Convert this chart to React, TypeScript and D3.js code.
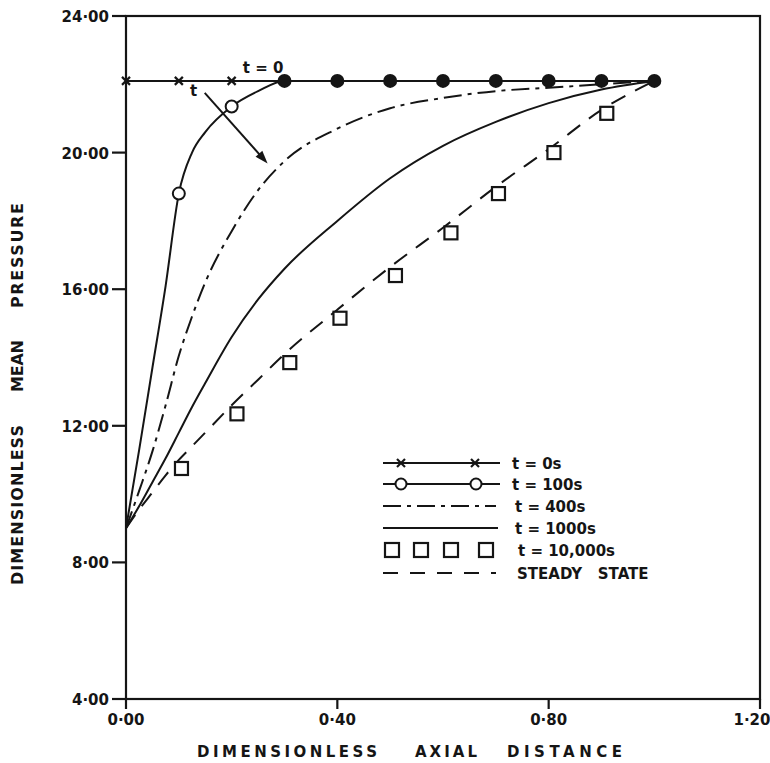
import React from 'react';
import * as d3 from 'd3';

// axial positions shared by the continuous curves
const xs = [0, 0.025, 0.05, 0.075, 0.1, 0.125, 0.15, 0.2, 0.25, 0.3, 0.4, 0.5, 0.6, 0.7, 0.8, 0.9, 1.0];
const t100 = [9.0, 11.3, 13.7, 16.1, 18.8, 20.0, 20.6, 21.35, 21.8, 22.1, 22.1, 22.1, 22.1, 22.1, 22.1, 22.1, 22.1];
const t400 = [9.0, 10.1, 11.25, 12.6, 14.05, 15.2, 16.2, 17.7, 18.9, 19.75, 20.7, 21.3, 21.6, 21.8, 21.9, 22.0, 22.1];
const t1000 = [9.0, 9.65, 10.35, 11.05, 11.8, 12.55, 13.25, 14.6, 15.7, 16.6, 18.0, 19.25, 20.2, 20.9, 21.45, 21.85, 22.1];
const steady = [9.0, 9.55, 10.05, 10.55, 11.0, 11.4, 11.8, 12.6, 13.35, 14.1, 15.4, 16.65, 17.8, 19.0, 20.1, 21.25, 22.1];

// t = 0 line and its markers
const t0X = [0, 0.1, 0.2, 0.3, 0.4, 0.5, 0.6, 0.7, 0.8, 0.9, 1.0];
const t0 = [22.1, 22.1, 22.1, 22.1, 22.1, 22.1, 22.1, 22.1, 22.1, 22.1, 22.1];

// t = 100s circles
const t100MarkX = [0.1, 0.2, 0.3, 0.4, 0.5, 0.6, 0.7, 0.8, 0.9, 1.0];
const t100Marks = [18.8, 21.35, 22.1, 22.1, 22.1, 22.1, 22.1, 22.1, 22.1, 22.1];

// t = 10,000s squares
const t10000X = [0.105, 0.21, 0.31, 0.405, 0.51, 0.615, 0.705, 0.81, 0.91];
const t10000 = [10.75, 12.35, 13.85, 15.15, 16.4, 17.65, 18.8, 20.0, 21.15];

const xTicks = [0, 0.4, 0.8, 1.2];
const yTicks = [4, 8, 12, 16, 20, 24];

const legendLabels = ['t = 0s', 't = 100s', 't = 400s', 't = 1000s', 't = 10,000s', 'STEADY   STATE'];

const W = 770;
const H = 763;
const font = '"DejaVu Sans", sans-serif';
const ink = '#151515';

const fmt = (v: number) => d3.format('.2f')(v).replace('.', '·');

const Cross = ({ cx, cy, s = 4 }: { cx: number; cy: number; s?: number }) => (
  <g stroke={ink} strokeWidth={2.2}>
    <line x1={cx - s} y1={cy - s} x2={cx + s} y2={cy + s} />
    <line x1={cx - s} y1={cy + s} x2={cx + s} y2={cy - s} />
  </g>
);

export default function App() {
  const x = d3.scaleLinear().domain([0, 1.2]).range([126, 760]);
  const y = d3.scaleLinear().domain([4, 24]).range([699, 16]);
  const [x0, x1] = x.range();
  const [y0, y1] = y.range();

  const line = d3
    .line<number>()
    .x((_, i) => x(xs[i]))
    .y((d) => y(d))
    .curve(d3.curveMonotoneX);

  const t0Line = d3
    .line<number>()
    .x((_, i) => x(t0X[i]))
    .y((d) => y(d));

  // arrow annotation in data units
  const ax1 = x(0.149), ay1 = y(21.75);
  const ax2 = x(0.268), ay2 = y(19.68);
  const ang = Math.atan2(ay2 - ay1, ax2 - ax1);
  const hl = 13, hw = 4.5;
  const head = [
    [ax2, ay2],
    [ax2 - hl * Math.cos(ang) + hw * Math.sin(ang), ay2 - hl * Math.sin(ang) - hw * Math.cos(ang)],
    [ax2 - hl * Math.cos(ang) - hw * Math.sin(ang), ay2 - hl * Math.sin(ang) + hw * Math.cos(ang)],
  ]
    .map((p) => p.join(','))
    .join(' ');

  // legend layout
  const lgX1 = 383, lgX2 = 500;
  const rowY = [463, 484, 506, 528, 550, 573];
  const textX = [512, 512, 515, 515, 518, 517];

  return (
    <svg
      width={W}
      height={H}
      style={{ position: 'absolute', left: 0, top: 0, background: '#fff' }}
      fontFamily={font}
      fontWeight="bold"
    >
      <rect width={W} height={H} fill="#fff" />

      {/* frame */}
      <rect x={x0} y={y1} width={x1 - x0} height={y0 - y1} fill="none" stroke={ink} strokeWidth={2.2} />

      {/* y ticks */}
      {yTicks.map((t) => (
        <g key={t}>
          <line x1={x0 - 14} x2={x0} y1={y(t)} y2={y(t)} stroke={ink} strokeWidth={2.2} />
          <text x={x0 - 17} y={y(t) + 6} textAnchor="end" fontSize={15} fill={ink}>
            {fmt(t)}
          </text>
        </g>
      ))}

      {/* x ticks */}
      {xTicks.map((t) => (
        <g key={t}>
          <line x1={x(t)} x2={x(t)} y1={y0} y2={y0 + 10} stroke={ink} strokeWidth={2.2} />
          <text x={Math.min(x(t), W - 18)} y={y0 + 26} textAnchor="middle" fontSize={15} fill={ink}>
            {fmt(t)}
          </text>
        </g>
      ))}

      {/* axis titles */}
      <g fontSize={15} fill={ink}>
        <text x={197} y={757} textLength={180} lengthAdjust="spacing">DIMENSIONLESS</text>
        <text x={415} y={757} textLength={62} lengthAdjust="spacing">AXIAL</text>
        <text x={507} y={757} textLength={115} lengthAdjust="spacing">DISTANCE</text>
      </g>
      <g fontSize={16} fill={ink} transform="translate(23,0) rotate(-90)">
        <text x={-585} y={0} textLength={160} lengthAdjust="spacing">DIMENSIONLESS</text>
        <text x={-392} y={0} textLength={52} lengthAdjust="spacing">MEAN</text>
        <text x={-308} y={0} textLength={105} lengthAdjust="spacing">PRESSURE</text>
      </g>

      {/* curves */}
      <g fill="none" stroke={ink} strokeWidth={2}>
        <path d={t0Line(t0) || ''} />
        <path d={line(t100) || ''} />
        <path d={line(t400) || ''} strokeDasharray="18,6,4,6" />
        <path d={line(t1000) || ''} />
        <path d={line(steady) || ''} strokeDasharray="16,11" />
      </g>

      {/* t = 0 crosses where not overlapped by circles */}
      {t0X.map((xv, i) =>
        t100MarkX.some((mx, j) => mx === xv && t100Marks[j] === t0[i]) ? null : (
          <Cross key={i} cx={x(xv)} cy={y(t0[i])} />
        )
      )}

      {/* t = 100s circles; filled where they sit on the t = 0 crosses */}
      {t100MarkX.map((xv, i) => {
        const filled = t0X.some((tx, j) => tx === xv && t0[j] === t100Marks[i]);
        return (
          <circle
            key={i}
            cx={x(xv)}
            cy={y(t100Marks[i])}
            r={6}
            fill={filled ? ink : '#fff'}
            stroke={ink}
            strokeWidth={2}
          />
        );
      })}

      {/* t = 10,000s squares */}
      {t10000X.map((xv, i) => (
        <rect
          key={i}
          x={x(xv) - 6.5}
          y={y(t10000[i]) - 6.5}
          width={13}
          height={13}
          fill="#fff"
          stroke={ink}
          strokeWidth={2.2}
        />
      ))}

      {/* annotation */}
      <line x1={ax1} y1={ay1} x2={ax2 - 8 * Math.cos(ang)} y2={ay2 - 8 * Math.sin(ang)} stroke={ink} strokeWidth={2} />
      <polygon points={head} fill={ink} />
      <text x={x(0.128)} y={y(21.66)} textAnchor="middle" fontSize={15} fill={ink}>t</text>
      <text x={x(0.221)} y={y(22.33)} fontSize={15} fill={ink}>t = 0</text>

      {/* legend */}
      <g stroke={ink} strokeWidth={2} fill="none">
        <line x1={lgX1} x2={lgX2} y1={rowY[0]} y2={rowY[0]} />
        <line x1={lgX1} x2={lgX2} y1={rowY[1]} y2={rowY[1]} />
        <line x1={lgX1} x2={lgX2 - 4} y1={rowY[2]} y2={rowY[2]} strokeDasharray="18,6,4,6" />
        <line x1={lgX1} x2={lgX2 - 2} y1={rowY[3]} y2={rowY[3]} />
        <line x1={lgX1} x2={lgX2 - 4} y1={rowY[5]} y2={rowY[5]} strokeDasharray="15,12" />
      </g>
      <Cross cx={401} cy={rowY[0]} />
      <Cross cx={475} cy={rowY[0]} />
      <circle cx={401} cy={rowY[1]} r={5.5} fill="#fff" stroke={ink} strokeWidth={2} />
      <circle cx={476} cy={rowY[1]} r={5.5} fill="#fff" stroke={ink} strokeWidth={2} />
      {[392, 421, 451, 486].map((cx) => (
        <rect key={cx} x={cx - 7} y={rowY[4] - 7} width={14} height={14} fill="#fff" stroke={ink} strokeWidth={2.2} />
      ))}
      {legendLabels.map((lab, i) => (
        <text key={lab} x={textX[i]} y={rowY[i] + 6} fontSize={15} fill={ink} style={{ whiteSpace: 'pre' }}>
          {lab}
        </text>
      ))}
    </svg>
  );
}
